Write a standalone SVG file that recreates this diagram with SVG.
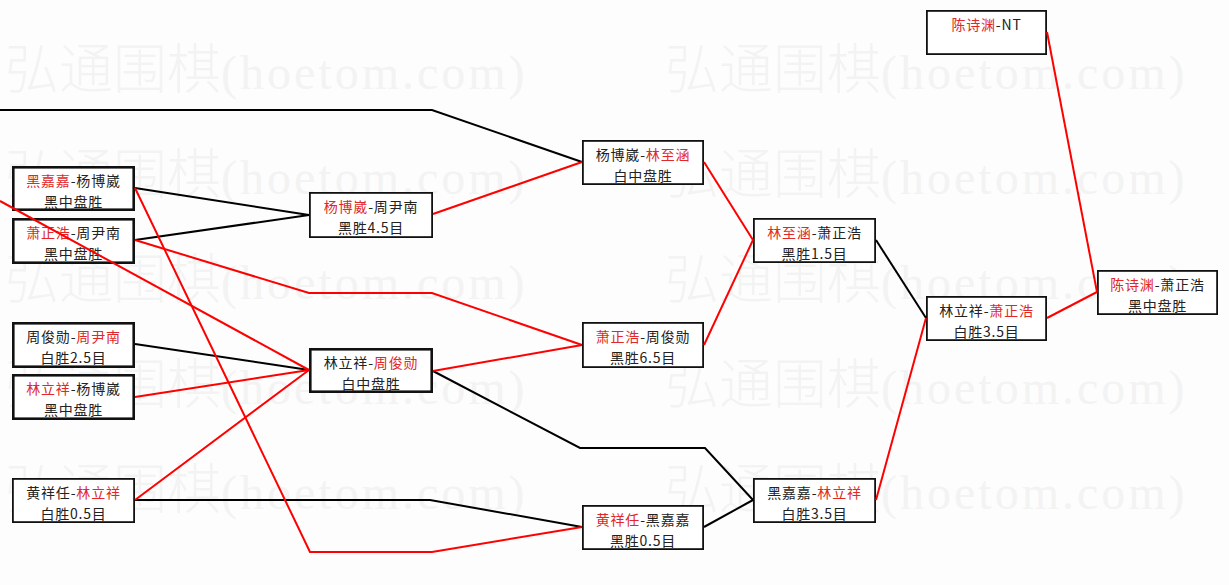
<svg xmlns="http://www.w3.org/2000/svg" width="1229" height="585" viewBox="0 0 1229 585">
<style>
.wm{fill:#f3f3f3;font-family:"Noto Sans CJK SC",sans-serif;font-size:54px;font-weight:300}
.wm .a{font-family:"Liberation Serif","Noto Sans CJK SC",serif;font-size:48px;letter-spacing:3px}
.box{fill:#fff;stroke:#111;stroke-width:1.8}
.bold{stroke-width:2.6}
.t{font-family:"Noto Sans CJK SC",sans-serif;font-size:14px;fill:#222;text-anchor:middle;letter-spacing:0.8px}
.r{fill:#e02828}
.bl{fill:none;stroke:#000;stroke-width:2;stroke-linejoin:miter}
.rd{fill:none;stroke:#ff0000;stroke-width:2;stroke-linejoin:miter}
</style>
<rect width="1229" height="585" fill="#fdfdfd"/>
<g id="watermark">
<text class="wm" x="5" y="89">弘通围棋<tspan class="a">(hoetom.com)</tspan></text>
<text class="wm" x="665" y="89">弘通围棋<tspan class="a">(hoetom.com)</tspan></text>
<text class="wm" x="5" y="194">弘通围棋<tspan class="a">(hoetom.com)</tspan></text>
<text class="wm" x="665" y="194">弘通围棋<tspan class="a">(hoetom.com)</tspan></text>
<text class="wm" x="5" y="299">弘通围棋<tspan class="a">(hoetom.com)</tspan></text>
<text class="wm" x="665" y="299">弘通围棋<tspan class="a">(hoetom.com)</tspan></text>
<text class="wm" x="5" y="404">弘通围棋<tspan class="a">(hoetom.com)</tspan></text>
<text class="wm" x="665" y="404">弘通围棋<tspan class="a">(hoetom.com)</tspan></text>
<text class="wm" x="5" y="509">弘通围棋<tspan class="a">(hoetom.com)</tspan></text>
<text class="wm" x="665" y="509">弘通围棋<tspan class="a">(hoetom.com)</tspan></text>
</g>
<g id="nodeA"><rect class="box bold" x="13.3" y="167.3" width="120.4" height="42.4"/><text class="t" x="73.5" y="186"><tspan class="r">黑嘉嘉</tspan>-杨博崴</text><text class="t" x="73.5" y="207">黑中盘胜</text></g>
<g id="nodeB"><rect class="box bold" x="13.3" y="219.3" width="120.4" height="43.4"/><text class="t" x="73.5" y="238"><tspan class="r">萧正浩</tspan>-周尹南</text><text class="t" x="73.5" y="259">黑中盘胜</text></g>
<g id="nodeC"><rect class="box bold" x="13.3" y="323.3" width="120.4" height="43.4"/><text class="t" x="73.5" y="342">周俊勋-<tspan class="r">周尹南</tspan></text><text class="t" x="73.5" y="363">白胜2.5目</text></g>
<g id="nodeD"><rect class="box bold" x="13.3" y="375.3" width="120.4" height="43.4"/><text class="t" x="73.5" y="394"><tspan class="r">林立祥</tspan>-杨博崴</text><text class="t" x="73.5" y="415">黑中盘胜</text></g>
<g id="nodeE"><rect class="box" x="12.9" y="478.9" width="121.2" height="43.2"/><text class="t" x="73.5" y="498">黄祥任-<tspan class="r">林立祥</tspan></text><text class="t" x="73.5" y="519">白胜0.5目</text></g>
<g id="nodeF"><rect class="box" x="309.9" y="192.9" width="122.2" height="44.2"/><text class="t" x="371" y="212"><tspan class="r">杨博崴</tspan>-周尹南</text><text class="t" x="371" y="233">黑胜4.5目</text></g>
<g id="nodeG"><rect class="box bold" x="310.3" y="349.3" width="121.4" height="42.4"/><text class="t" x="371" y="368">林立祥-<tspan class="r">周俊勋</tspan></text><text class="t" x="371" y="389">白中盘胜</text></g>
<g id="nodeH"><rect class="box" x="582.9" y="140.9" width="120.2" height="43.2"/><text class="t" x="643" y="160">杨博崴-<tspan class="r">林至涵</tspan></text><text class="t" x="643" y="181">白中盘胜</text></g>
<g id="nodeI"><rect class="box" x="582.9" y="322.9" width="120.2" height="44.2"/><text class="t" x="643" y="342"><tspan class="r">萧正浩</tspan>-周俊勋</text><text class="t" x="643" y="363">黑胜6.5目</text></g>
<g id="nodeJ"><rect class="box" x="582.9" y="505.9" width="120.2" height="43.2"/><text class="t" x="643" y="525"><tspan class="r">黄祥任</tspan>-黑嘉嘉</text><text class="t" x="643" y="546">黑胜0.5目</text></g>
<g id="nodeK"><rect class="box" x="753.9" y="218.9" width="121.2" height="43.2"/><text class="t" x="814.5" y="238"><tspan class="r">林至涵</tspan>-萧正浩</text><text class="t" x="814.5" y="259">黑胜1.5目</text></g>
<g id="nodeL"><rect class="box" x="753.9" y="478.9" width="121.2" height="43.2"/><text class="t" x="814.5" y="498">黑嘉嘉-<tspan class="r">林立祥</tspan></text><text class="t" x="814.5" y="519">白胜3.5目</text></g>
<g id="nodeM"><rect class="box" x="926.9" y="296.9" width="119.2" height="43.2"/><text class="t" x="986.5" y="316">林立祥-<tspan class="r">萧正浩</tspan></text><text class="t" x="986.5" y="337">白胜3.5目</text></g>
<g id="nodeN"><rect class="box" x="926.9" y="10.9" width="119.2" height="43.2"/><text class="t" x="986.5" y="30"><tspan class="r">陈诗渊</tspan>-NT</text></g>
<g id="nodeO"><rect class="box" x="1097.9" y="270.9" width="119.2" height="43.2"/><text class="t" x="1157.5" y="290"><tspan class="r">陈诗渊</tspan>-萧正浩</text><text class="t" x="1157.5" y="311">黑中盘胜</text></g>
<g id="connectors">
<path class="bl" d="M0,110 L432,110 L582,162"/>
<path class="bl" d="M135,188 L309,215"/>
<path class="bl" d="M135,240 L309,215"/>
<path class="bl" d="M135,344 L309,370"/>
<path class="bl" d="M135,500 L430,500 L582,527"/>
<path class="bl" d="M433,371 L580,448 L705,448 L753,500"/>
<path class="bl" d="M704,527 L753,500"/>
<path class="bl" d="M876,240 L926,318"/>
<path class="rd" d="M0,201 L309,370"/>
<path class="rd" d="M135,188 L310,552 L432,552 L582,527"/>
<path class="rd" d="M135,240 L309,293 L432,293 L582,345"/>
<path class="rd" d="M135,397 L309,370"/>
<path class="rd" d="M135,500 L309,370"/>
<path class="rd" d="M433,214 L582,162"/>
<path class="rd" d="M433,371 L582,345"/>
<path class="rd" d="M704,162 L753,240"/>
<path class="rd" d="M704,345 L753,240"/>
<path class="rd" d="M876,500 L926,318"/>
<path class="rd" d="M1047,318 L1097,292"/>
<path class="rd" d="M1047,32 L1097,292"/>
</g>
</svg>
